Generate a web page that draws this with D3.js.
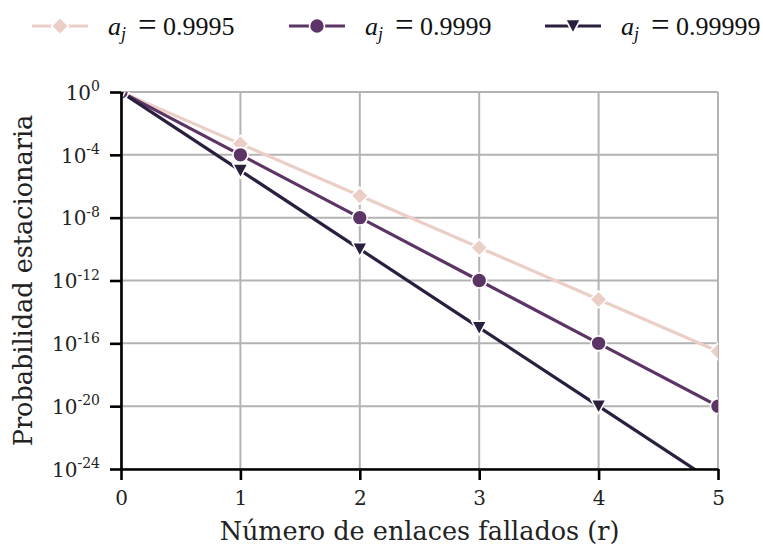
<!DOCTYPE html>
<html>
<head>
<meta charset="utf-8">
<script src="https://cdn.jsdelivr.net/npm/d3@7"></script>
<style>
  body { margin: 0; background: #fff; }
  svg { display: block; }
</style>
</head>
<body>
<div id="chart"></div>
<script>
// valores
var fallos = [0, 1, 2, 3, 4, 5];
var prob9995 = [1, 5e-4, 2.5e-7, 1.25e-10, 6.2e-14, 3.1e-17];
var prob9999 = [1, 1e-4, 1e-8, 1e-12, 1e-16, 1e-20];
var prob99999 = [1, 1e-5, 1e-10, 1e-15, 1e-20, 1e-25];
var etiquetas = ["0.9995", "0.9999", "0.99999"];
var colores = ["#ebcfc7", "#5c3566", "#2b1f3f"];
var marcadores = ["diamond", "circle", "triangle"];
var yTicks = [0, -4, -8, -12, -16, -20, -24];

const width = 763, height = 545;
const margins = { top: 92, bottom: 76, left: 121, right: 45 };

var svg = d3.select("#chart").append("svg")
    .attr("width", width)
    .attr("height", height);

var scaleX = d3.scaleLinear()
    .domain([0, 5])
    .range([margins.left, width - margins.right]);

var scaleY = d3.scaleLog()
    .domain([1e-24, 1])
    .range([height - margins.bottom, margins.top]);

// rejilla
svg.append("g").selectAll("line.gx")
    .data(fallos)
    .enter().append("line")
    .attr("x1", d => scaleX(d)).attr("x2", d => scaleX(d))
    .attr("y1", scaleY(1)).attr("y2", scaleY(1e-24))
    .attr("stroke", "#b3b3b3").attr("stroke-width", 2);

svg.append("g").selectAll("line.gy")
    .data(yTicks)
    .enter().append("line")
    .attr("x1", scaleX(0)).attr("x2", scaleX(5))
    .attr("y1", d => scaleY(Math.pow(10, d))).attr("y2", d => scaleY(Math.pow(10, d)))
    .attr("stroke", "#b3b3b3").attr("stroke-width", 2);

svg.append("clipPath").attr("id", "area")
    .append("rect")
    .attr("x", scaleX(0)).attr("y", scaleY(1))
    .attr("width", scaleX(5) - scaleX(0))
    .attr("height", scaleY(1e-24) - scaleY(1));

var series = [prob9995, prob9999, prob99999];

function simbolo(tipo, cx, cy) {
    if (tipo === "diamond") {
        var s = 8.5;
        return "M" + cx + "," + (cy - s) + "L" + (cx + s) + "," + cy + "L" + cx + "," + (cy + s) + "L" + (cx - s) + "," + cy + "Z";
    }
    if (tipo === "triangle") {
        var w = 7.5;
        return "M" + (cx - w) + "," + (cy - 6.5) + "L" + (cx + w) + "," + (cy - 6.5) + "L" + cx + "," + (cy + 7.5) + "Z";
    }
    return "M" + (cx - 7.5) + "," + cy + "a7.5,7.5 0 1,0 15,0a7.5,7.5 0 1,0 -15,0Z";
}

var line = d3.line()
    .x((d, i) => scaleX(fallos[i]))
    .y(d => scaleY(d));

var plot = svg.append("g").attr("clip-path", "url(#area)");

series.forEach(function (valores, k) {
    plot.append("path")
        .attr("d", line(valores))
        .attr("fill", "none")
        .attr("stroke", colores[k])
        .attr("stroke-width", 3.2);
});

series.forEach(function (valores, k) {
    plot.selectAll(".m" + k)
        .data(valores)
        .enter().append("path")
        .attr("class", "m" + k)
        .attr("d", (d, i) => simbolo(marcadores[k], scaleX(fallos[i]), scaleY(d)))
        .attr("fill", colores[k])
        .attr("stroke", "#fff")
        .attr("stroke-width", 1.6);
});

// ejes
var axisX = d3.axisBottom(scaleX).tickValues(fallos).tickFormat(d3.format("d"))
    .tickSizeInner(11).tickSizeOuter(0).tickPadding(11);
var gx = svg.append("g")
    .attr("transform", "translate(0," + scaleY(1e-24) + ")")
    .call(axisX);
gx.select(".domain").attr("stroke", "#000").attr("stroke-width", 2.6);
gx.selectAll(".tick line").attr("stroke", "#000").attr("stroke-width", 2.6);
gx.selectAll(".tick text")
    .attr("font-family", "DejaVu Serif").attr("font-size", 20).attr("fill", "#222");

var axisY = d3.axisLeft(scaleY).tickValues(yTicks.map(e => Math.pow(10, e)))
    .tickFormat("").tickSizeInner(11).tickSizeOuter(0);
var gy = svg.append("g")
    .attr("transform", "translate(" + scaleX(0) + ",0)")
    .call(axisY);
gy.select(".domain").attr("stroke", "#000").attr("stroke-width", 2.6);
gy.selectAll(".tick line").attr("stroke", "#000").attr("stroke-width", 2.6);

var ty = gy.selectAll(".tick").append("text")
    .attr("x", -21).attr("y", 0).attr("dy", "0.36em")
    .attr("text-anchor", "end")
    .attr("font-family", "DejaVu Serif").attr("font-size", 20).attr("fill", "#222");
ty.append("tspan").text("10");
ty.append("tspan")
    .attr("font-size", 14)
    .attr("dy", "-0.6em")
    .text(function (d) { return Math.round(Math.log10(d)); });

// titulos
svg.append("text")
    .attr("x", (scaleX(0) + scaleX(5)) / 2)
    .attr("y", 540)
    .attr("text-anchor", "middle")
    .attr("font-family", "DejaVu Serif").attr("font-size", 25.5).attr("fill", "#222")
    .text("Número de enlaces fallados (r)");

svg.append("text")
    .attr("transform", "translate(32," + ((scaleY(1) + scaleY(1e-24)) / 2) + ") rotate(-90)")
    .attr("text-anchor", "middle")
    .attr("font-family", "DejaVu Serif").attr("font-size", 25.5).attr("fill", "#222")
    .text("Probabilidad estacionaria");

// leyenda
var legX = [32, 289, 545];
etiquetas.forEach(function (et, k) {
    var g = svg.append("g").attr("transform", "translate(" + legX[k] + ",26)");
    g.append("line").attr("x1", 0).attr("x2", 56).attr("y1", 0).attr("y2", 0)
        .attr("stroke", colores[k]).attr("stroke-width", 3.2);
    g.append("path").attr("d", simbolo(marcadores[k], 28, 0))
        .attr("fill", colores[k]).attr("stroke", "#fff").attr("stroke-width", 1.6);
    var t = g.append("g").attr("transform", "translate(76,9)")
        .attr("font-family", "Liberation Serif").attr("font-size", 26).attr("fill", "#111");
    t.append("text").attr("font-style", "italic").attr("x", 0).text("a");
    t.append("text").attr("font-style", "italic").attr("font-size", 18).attr("x", 13).attr("y", 5).text("j");
    t.append("text").attr("x", 30).attr("y", 1).attr("font-size", 33).text("=");
    t.append("text").attr("x", 55).text(et);
});
</script>
</body>
</html>
